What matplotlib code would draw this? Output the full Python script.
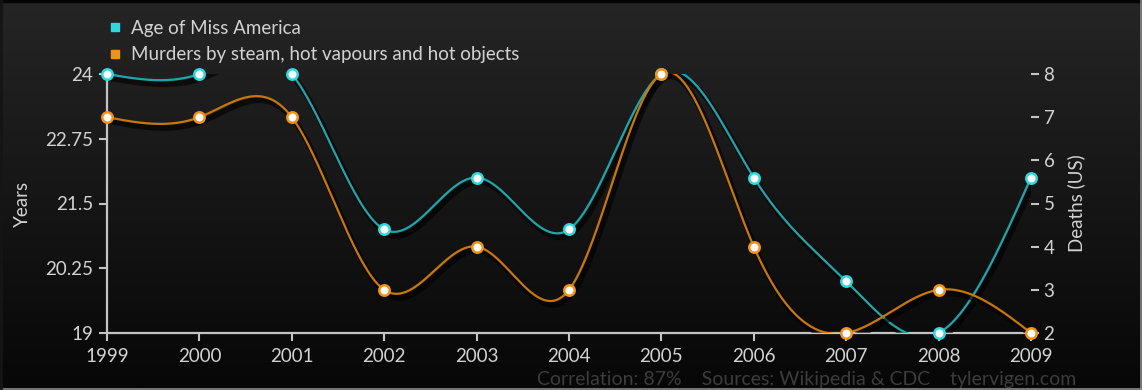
import numpy as np
import matplotlib
matplotlib.use('Agg')
import matplotlib.pyplot as plt
from matplotlib.lines import Line2D
import matplotlib.patheffects as pe

# ---- data ----
years = [1999, 2000, 2001, 2002, 2003, 2004, 2005, 2006, 2007, 2008, 2009]
miss_america_age = [24, 24, 24, 21, 22, 21, 24, 22, 20, 19, 22]
steam_murders = [7, 7, 7, 3, 4, 3, 8, 4, 2, 3, 2]
left_ticks = [19, 20.25, 21.5, 22.75, 24]
left_tick_labels = ["19", "20.25", "21.5", "22.75", "24"]
right_ticks = [2, 3, 4, 5, 6, 7, 8]
series_names = ["Age of Miss America", "Murders by steam, hot vapours and hot objects"]
left_label = "Years"
right_label = "Deaths (US)"
footer = "Correlation: 87%    Sources: Wikipedia & CDC    tylervigen.com"

plt.rcParams['font.family'] = ['Lato', 'DejaVu Sans']

TXT = '#d2d2d2'
AXC = '#c4c4c4'
CYAN_LINE = '#1fa6ad'
CYAN_MARK = '#2fd8de'
ORANGE_LINE = '#c97708'
ORANGE_MARK = '#f29217'
FS = 13.5


def natural_spline(x, y, n=600):
    x = np.asarray(x, float)
    y = np.asarray(y, float)
    N = len(x)
    h = np.diff(x)
    A = np.zeros((N, N))
    b = np.zeros(N)
    A[0, 0] = 1
    A[-1, -1] = 1
    for i in range(1, N - 1):
        A[i, i - 1] = h[i - 1]
        A[i, i] = 2 * (h[i - 1] + h[i])
        A[i, i + 1] = h[i]
        b[i] = 6 * ((y[i + 1] - y[i]) / h[i] - (y[i] - y[i - 1]) / h[i - 1])
    M = np.linalg.solve(A, b)
    xs = np.linspace(x[0], x[-1], n)
    idx = np.clip(np.searchsorted(x, xs) - 1, 0, N - 2)
    x0 = x[idx]
    x1 = x[idx + 1]
    hh = x1 - x0
    t0 = x1 - xs
    t1 = xs - x0
    ys = (M[idx] * t0 ** 3 / (6 * hh) + M[idx + 1] * t1 ** 3 / (6 * hh)
          + (y[idx] / hh - M[idx] * hh / 6) * t0
          + (y[idx + 1] / hh - M[idx + 1] * hh / 6) * t1)
    return xs, ys


W, H = 1142, 390
fig = plt.figure(figsize=(W / 100, H / 100), dpi=100)

# background gradient
bg = fig.add_axes([0, 0, 1, 1], zorder=-10)
grad = np.linspace(0, 1, 256).reshape(-1, 1)
top = np.array([0x25, 0x25, 0x25]) / 255
bot = np.array([0x07, 0x07, 0x07]) / 255
img = top[None, None, :] * (1 - grad[:, :, None]) + bot[None, None, :] * grad[:, :, None]
bg.imshow(img, extent=[0, 1, 0, 1], aspect='auto', origin='upper')
bg.set_xlim(0, 1)
bg.set_ylim(0, 1)
bg.axis('off')
# frame edges
bg.add_line(Line2D([0, 1], [0.997, 0.997], color='#050505', lw=2.5, transform=bg.transAxes))
bg.add_line(Line2D([0.9995, 0.9995], [0, 1], color='#8a8a8a', lw=1.2, transform=bg.transAxes))
bg.add_line(Line2D([0, 1], [0.002, 0.002], color='#8a8a8a', lw=1.2, transform=bg.transAxes))
bg.add_line(Line2D([0.001, 0.001], [0, 1], color='#151515', lw=2, transform=bg.transAxes))

ax = fig.add_axes([107 / W, 1 - 333 / H, (1031 - 107) / W, (333 - 74) / H])
ax.patch.set_alpha(0)
ax2 = ax.twinx()
ax2.patch.set_alpha(0)

shadow = [pe.SimpleLineShadow(offset=(2, -3), shadow_color='black', alpha=0.6, linewidth=4), pe.Normal()]

xs, ys = natural_spline(years, miss_america_age)
ax.plot(xs, ys, color=CYAN_LINE, lw=1.6, path_effects=shadow, zorder=3)
ax.plot(years, miss_america_age, ls='', marker='o', ms=7.5, mfc='white', mec=CYAN_MARK, mew=1.8,
        clip_on=False, zorder=4)

xs2, ys2 = natural_spline(years, steam_murders)
ax2.plot(xs2, ys2, color=ORANGE_LINE, lw=1.6, path_effects=shadow, zorder=3)
ax2.plot(years, steam_murders, ls='', marker='o', ms=7.5, mfc='white', mec=ORANGE_MARK, mew=1.8,
         clip_on=False, zorder=4)

ax.set_xlim(years[0], years[-1])
ax.set_ylim(left_ticks[0], left_ticks[-1])
ax2.set_ylim(right_ticks[0], right_ticks[-1])

ax.set_xticks(years)
ax.set_xticklabels([str(y) for y in years])
ax.set_yticks(left_ticks)
ax.set_yticklabels(left_tick_labels)
ax2.set_yticks(right_ticks)

for s in ['top', 'right']:
    ax.spines[s].set_visible(False)
for s in ['left', 'bottom']:
    ax.spines[s].set_color(AXC)
    ax.spines[s].set_linewidth(1.6)
for s in ax2.spines.values():
    s.set_visible(False)

ax.tick_params(axis='x', colors=AXC, labelcolor=TXT, length=6, width=1.5, pad=5, labelsize=FS)
ax.tick_params(axis='y', colors=AXC, labelcolor=TXT, length=6, width=1.5, pad=4, labelsize=FS)
ax2.tick_params(axis='y', colors=AXC, labelcolor=TXT, length=6, width=1.5, pad=3, labelsize=FS)

ax.set_ylabel(left_label, color=TXT, fontsize=FS, labelpad=10)
ax2.set_ylabel(right_label, color=TXT, fontsize=FS, labelpad=9)

handles = [Line2D([], [], ls='', marker='s', ms=5.5, color=CYAN_MARK),
           Line2D([], [], ls='', marker='s', ms=5.5, color=ORANGE_MARK)]
leg = fig.legend(handles, series_names, loc='upper left', bbox_to_anchor=(109 / W, 1 - 20 / H),
                 frameon=False, handlelength=0.6, handletextpad=0.55, labelspacing=0.5,
                 fontsize=FS, labelcolor=TXT, borderpad=0, borderaxespad=0)

fig.text(537 / W, 1 - 380 / H, footer, color='#3c3c3c', fontsize=14, va='center', ha='left')

fig.savefig('out.png', dpi=100, facecolor='#111111')
